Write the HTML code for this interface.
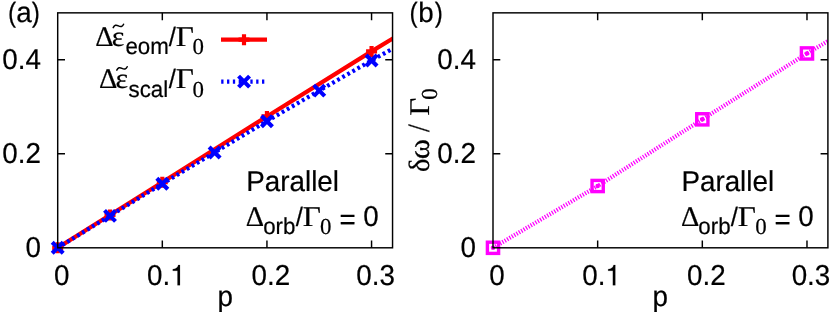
<!DOCTYPE html>
<html><head><meta charset="utf-8"><title>plot</title>
<style>
html,body{margin:0;padding:0;background:#fff;}
body{width:830px;height:317px;overflow:hidden;}
svg{display:block;will-change:transform;}
text{text-rendering:geometricPrecision;font-family:"Liberation Sans",sans-serif;font-size:27.80px;fill:#000;stroke:#000;stroke-width:0.2px;}
.s{font-size:22.30px;}
.g{font-family:"Liberation Serif",serif;font-size:28.5px;}
.g.s{font-size:22.9px;}
.sl{font-size:25.6px;}
</style></head><body>
<svg width="830" height="317" viewBox="0 0 830 317">
<rect width="830" height="317" fill="#fff"/>
<defs>
<clipPath id="ca"><rect x="57.70" y="12.85" width="334.85" height="234.95"/></clipPath>
<clipPath id="cb"><rect x="493.00" y="12.85" width="334.90" height="234.95"/></clipPath>
</defs>

<g clip-path="url(#ca)">
<polyline points="57.70,247.80 110.01,215.00 162.32,182.20 266.94,116.42 371.56,51.38 476.18,-12.05" fill="none" stroke="#ff0000" stroke-width="4.17" stroke-linejoin="round"/>
</g>
<path d="M52.20 247.80H63.20M57.70 242.30V253.30" stroke="#ff0000" stroke-width="4.17" fill="none"/>
<path d="M104.51 215.00H115.51M110.01 209.50V220.50" stroke="#ff0000" stroke-width="4.17" fill="none"/>
<path d="M156.82 182.20H167.82M162.32 176.70V187.70" stroke="#ff0000" stroke-width="4.17" fill="none"/>
<path d="M261.44 116.42H272.44M266.94 110.92V121.92" stroke="#ff0000" stroke-width="4.17" fill="none"/>
<path d="M366.06 51.38H377.06M371.56 45.88V56.88" stroke="#ff0000" stroke-width="4.17" fill="none"/>
<g clip-path="url(#ca)">
<polyline points="57.70,247.80 110.01,215.85 162.32,183.71 214.63,152.50 266.94,121.16 319.25,90.62 371.56,60.45 423.87,31.32" fill="none" stroke="#0000ff" stroke-width="4.17" stroke-dasharray="2.8 3.03" stroke-dashoffset="0.5"/>
</g>
<path d="M52.20 242.30L63.20 253.30M52.20 253.30L63.20 242.30" stroke="#0000ff" stroke-width="4.17" fill="none"/>
<path d="M104.51 210.35L115.51 221.35M104.51 221.35L115.51 210.35" stroke="#0000ff" stroke-width="4.17" fill="none"/>
<path d="M156.82 178.21L167.82 189.21M156.82 189.21L167.82 178.21" stroke="#0000ff" stroke-width="4.17" fill="none"/>
<path d="M209.13 147.00L220.13 158.00M209.13 158.00L220.13 147.00" stroke="#0000ff" stroke-width="4.17" fill="none"/>
<path d="M261.44 115.66L272.44 126.66M261.44 126.66L272.44 115.66" stroke="#0000ff" stroke-width="4.17" fill="none"/>
<path d="M313.75 85.12L324.75 96.12M313.75 96.12L324.75 85.12" stroke="#0000ff" stroke-width="4.17" fill="none"/>
<path d="M366.06 54.95L377.06 65.95M366.06 65.95L377.06 54.95" stroke="#0000ff" stroke-width="4.17" fill="none"/>
<path d="M221 39.7H267" stroke="#ff0000" stroke-width="4.17"/>
<path d="M238.50 39.70H249.50M244.00 34.20V45.20" stroke="#ff0000" stroke-width="4.17" fill="none"/>
<path d="M221.2 81.6H267" stroke="#0000ff" stroke-width="4.17" stroke-dasharray="2.3 3.53"/>
<path d="M238.55 76.10L249.55 87.10M238.55 87.10L249.55 76.10" stroke="#0000ff" stroke-width="4.17" fill="none"/>
<g clip-path="url(#cb)">
<polyline points="493.00,247.80 597.66,186.01 702.32,119.33 806.98,53.45 911.64,-8.11" fill="none" stroke="#ff00ff" stroke-width="4.17" stroke-dasharray="1.25 1.49"/>
</g>
<rect x="487.40" y="242.20" width="11.20" height="11.20" stroke="#ff00ff" stroke-width="3.4" fill="none"/><circle cx="493.00" cy="247.80" r="2.3" fill="#ff00ff"/>
<rect x="592.06" y="180.41" width="11.20" height="11.20" stroke="#ff00ff" stroke-width="3.4" fill="none"/><circle cx="597.66" cy="186.01" r="2.3" fill="#ff00ff"/>
<rect x="696.72" y="113.73" width="11.20" height="11.20" stroke="#ff00ff" stroke-width="3.4" fill="none"/><circle cx="702.32" cy="119.33" r="2.3" fill="#ff00ff"/>
<rect x="801.38" y="47.85" width="11.20" height="11.20" stroke="#ff00ff" stroke-width="3.4" fill="none"/><circle cx="806.98" cy="53.45" r="2.3" fill="#ff00ff"/>
<g stroke="#000" stroke-width="1.45" fill="none"><rect x="57.70" y="12.85" width="334.85" height="234.95"/><path d="M162.32 247.80v-7.30M162.32 12.85v7.30M266.94 247.80v-7.30M266.94 12.85v7.30M371.56 247.80v-7.30M371.56 12.85v7.30M57.70 153.82h7.30M392.55 153.82h-7.30M57.70 59.84h7.30M392.55 59.84h-7.30"/></g>
<g stroke="#000" stroke-width="1.45" fill="none"><rect x="493.00" y="12.85" width="334.90" height="234.95"/><path d="M597.66 247.80v-7.30M597.66 12.85v7.30M702.32 247.80v-7.30M702.32 12.85v7.30M806.98 247.80v-7.30M806.98 12.85v7.30M493.00 153.82h7.30M827.90 153.82h-7.30M493.00 59.84h7.30M827.90 59.84h-7.30"/></g>
<text transform="translate(8.00 22.00) scale(0.880 1.000)">(</text>
<text transform="translate(16.36 22.00) scale(1.000 1.033)">a</text>
<text transform="translate(31.85 22.00) scale(0.880 1.000)">)</text>
<text transform="translate(409.50 22.00) scale(0.880 1.000)">(</text>
<text transform="translate(418.20 22.00) scale(1.000 1.010)">b</text>
<text transform="translate(434.65 22.00) scale(0.880 1.000)">)</text>
<text transform="translate(40.90 256.90) scale(1.000 1.033)" text-anchor="end">0</text>
<text transform="translate(476.00 256.90) scale(1.000 1.033)" text-anchor="end">0</text>
<text transform="translate(40.90 162.92) scale(1.000 1.033)" text-anchor="end">0.2</text>
<text transform="translate(476.00 162.92) scale(1.000 1.033)" text-anchor="end">0.2</text>
<text transform="translate(40.90 68.94) scale(1.000 1.033)" text-anchor="end">0.4</text>
<text transform="translate(476.00 68.94) scale(1.000 1.033)" text-anchor="end">0.4</text>
<text transform="translate(61.70 285.30) scale(1.000 1.033)" text-anchor="middle">0</text>
<text transform="translate(497.00 285.30) scale(1.000 1.033)" text-anchor="middle">0</text>
<text transform="translate(147.00 285.30) scale(1.000 1.033)">0.</text><path transform="translate(169.98 285.30) scale(0.02780 -0.02872)" d="M359 0V709H298C285 640 230 572 101 560V505H271V0Z" fill="#000" stroke="#000" stroke-width="6"/>
<text transform="translate(582.34 285.30) scale(1.000 1.033)">0.</text><path transform="translate(605.32 285.30) scale(0.02780 -0.02872)" d="M359 0V709H298C285 640 230 572 101 560V505H271V0Z" fill="#000" stroke="#000" stroke-width="6"/>
<text transform="translate(270.94 285.30) scale(1.000 1.033)" text-anchor="middle">0.2</text>
<text transform="translate(706.32 285.30) scale(1.000 1.033)" text-anchor="middle">0.2</text>
<text transform="translate(375.56 285.30) scale(1.000 1.033)" text-anchor="middle">0.3</text>
<text transform="translate(810.98 285.30) scale(1.000 1.033)" text-anchor="middle">0.3</text>
<text transform="translate(225.20 306.20) scale(1.000 1.033)" text-anchor="middle">p</text>
<text transform="translate(660.30 306.20) scale(1.000 1.033)" text-anchor="middle">p</text>
<text transform="translate(95.30 45.60) scale(1.000 1.000)" class="g">Δ</text><text transform="translate(111.80 45.60) scale(1.050 1.000)" class="g">ε</text><text transform="translate(125.40 54.00) scale(1.000 1.033)" class="s">eom</text><text transform="translate(168.70 45.60) scale(1.000 1.033)" class="sl">/</text><text transform="translate(175.70 45.60) scale(1.100 1.000)" class="g">Γ</text><text transform="translate(192.50 54.30) scale(1.000 1.000)" class="g s">0</text>
<text transform="translate(98.90 88.10) scale(1.000 1.000)" class="g">Δ</text><text transform="translate(115.40 88.10) scale(1.050 1.000)" class="g">ε</text><text transform="translate(128.50 96.50) scale(1.000 1.033)" class="s">scal</text><text transform="translate(168.70 88.10) scale(1.000 1.033)" class="sl">/</text><text transform="translate(175.70 88.10) scale(1.100 1.000)" class="g">Γ</text><text transform="translate(192.50 96.80) scale(1.000 1.000)" class="g s">0</text>
<path d="M113.20 27.60c1.2 -2.6 2.9 -3.0 5.2 -1.7c2.3 1.3 4.0 0.9 5.2 -1.7" stroke="#000" stroke-width="1.5" fill="none" stroke-linecap="round"/>
<path d="M116.80 70.10c1.2 -2.6 2.9 -3.0 5.2 -1.7c2.3 1.3 4.0 0.9 5.2 -1.7" stroke="#000" stroke-width="1.5" fill="none" stroke-linecap="round"/>
<text transform="translate(246.30 190.70) scale(1.000 1.033)">Parallel</text><text transform="translate(245.80 225.60) scale(1.000 1.000)" class="g">Δ</text><text transform="translate(263.20 234.00) scale(1.000 1.033)" class="s">orb</text><text transform="translate(295.70 225.60) scale(1.000 1.033)" class="sl">/</text><text transform="translate(302.70 225.60) scale(1.100 1.000)" class="g">Γ</text><text transform="translate(320.10 234.30) scale(1.000 1.000)" class="g s">0</text><text transform="translate(339.40 228.60) scale(1.000 1.033)">=</text><text transform="translate(363.20 225.60) scale(1.000 1.033)">0</text>
<text transform="translate(681.40 190.70) scale(1.000 1.033)">Parallel</text><text transform="translate(680.90 225.60) scale(1.000 1.000)" class="g">Δ</text><text transform="translate(698.30 234.00) scale(1.000 1.033)" class="s">orb</text><text transform="translate(730.80 225.60) scale(1.000 1.033)" class="sl">/</text><text transform="translate(737.80 225.60) scale(1.100 1.000)" class="g">Γ</text><text transform="translate(755.20 234.30) scale(1.000 1.000)" class="g s">0</text><text transform="translate(774.50 228.60) scale(1.000 1.033)">=</text><text transform="translate(798.30 225.60) scale(1.000 1.033)">0</text>
<g transform="translate(429 171.9) rotate(-90)">
<text transform="translate(0.00 0.00) scale(1.000 1.030)" class="g">δ</text>
<text transform="translate(12.60 0.00) scale(1.080 1.050)" class="g">ω</text>
<text transform="translate(40.00 0.00) scale(0.900 1.000)" class="g" style="font-size:31px">/</text>
<text transform="translate(56.10 0.00) scale(1.090 1.000)" class="g">Γ</text>
<text transform="translate(72.20 8.40) scale(1.000 1.000)" class="g s">0</text>
</g>
</svg></body></html>
